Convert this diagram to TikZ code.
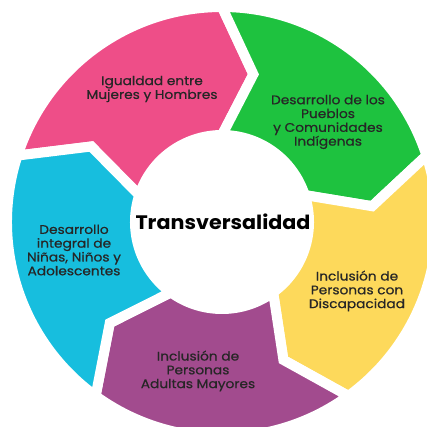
\documentclass[tikz,border=0pt]{standalone}
\usepackage{fontspec}
\setmainfont{Poppins}
\newfontfamily\rotulo{Poppins}[FakeStretch=1.1,FakeBold=0.6]
\newfontfamily\centrofont{Poppins}[FakeStretch=1.06]
\usepackage{xcolor}
\usepackage{tikz}
\usetikzlibrary{positioning,calc}

\definecolor{rosa}{HTML}{EE4E88}
\definecolor{verde}{HTML}{1EC23F}
\definecolor{amarillo}{HTML}{FDD95B}
\definecolor{morado}{HTML}{A24B8E}
\definecolor{cian}{HTML}{17BEDE}

\begin{document}
\begin{tikzpicture}[x=1pt,y=1pt]
      % every piece of the ring: an arc with a point in front and a notch behind,
      % the white border makes the gap between two pieces
      \tikzset{Pieza/.style={draw=white,line width=10pt,line join=miter},
        Texto/.style={align=center,text=black!85,
            font=\rotulo\fontsize{12.5}{13.8}\selectfont}}
      \useasboundingbox (-222,-205) rectangle (205,222);
      \clip (-222,-205) rectangle (205,222);
      % the pieces go clockwise, 72 degrees each
      \foreach \a/\col in {162/rosa,90/verde,18/amarillo,-54/morado,-126/cian}{
        \filldraw[Pieza,fill=\col] (\a:215) arc[start angle=\a,delta angle=-72,radius=215]
            -- (\a-84:151) -- (\a-72:87) arc[start angle=\a-72,delta angle=72,radius=87]
            -- (\a-12:151) -- cycle;
      }
      % the texts
      \node[font=\centrofont\fontsize{19.5}{21}\selectfont\bfseries] (centro) at (1,0) {Transversalidad};
      \node[Texto] (igualdad) at (-70,133) {Igualdad entre\\Mujeres y Hombres};
      \node[Texto] (pueblos) at (106,100) {Desarrollo de los\\Pueblos\\y Comunidades\\Indígenas};
      \node[Texto] (discapacidad) at (135,-69) {Inclusión de\\Personas con\\Discapacidad};
      \node[Texto] (mayores) at (-24,-149) {Inclusión de\\Personas\\Adultas Mayores};
      \node[Texto] (infancia) at (-148,-28) {Desarrollo\\integral de\\Niñas, Niños y\\Adolescentes};
\end{tikzpicture}
\end{document}
